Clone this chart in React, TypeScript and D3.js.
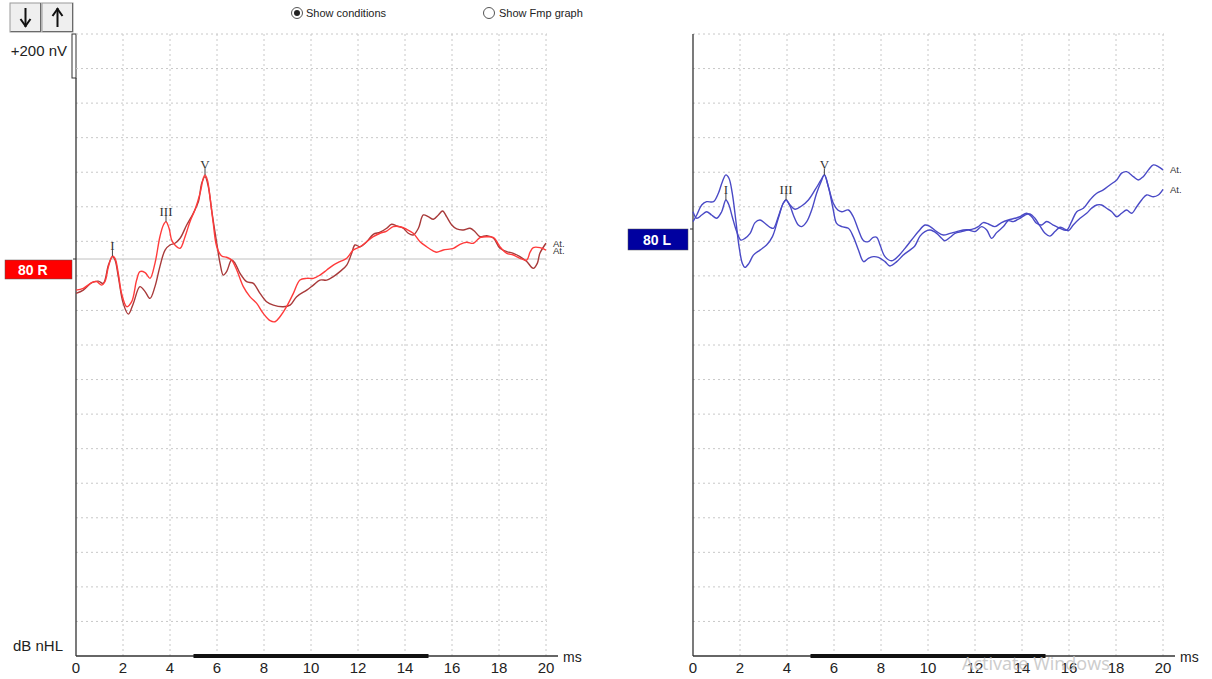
import React from "react";
import * as d3 from "d3";

// ---------- data (time in ms, amplitude in nV relative to each baseline) ----------
const timeTicks = [0, 2, 4, 6, 8, 10, 12, 14, 16, 18, 20];

const rightEarBright: [number, number][] = [
  [0.0, -180], [0.31, -170], [0.67, -137], [0.88, -131], [1.09, -151], [1.23, -131], [1.38, -44], [1.55, 17], [1.66, 4],
  [1.8, -83], [1.94, -199], [2.16, -276], [2.37, -247], [2.58, -122], [2.72, -73], [2.94, -79], [3.15, -112], [3.36, -25],
  [3.57, 129], [3.72, 197], [3.83, 216], [3.96, 178], [4.07, 110], [4.21, 81], [4.43, 62], [4.64, 129], [4.85, 216],
  [5.06, 284], [5.28, 381], [5.42, 468], [5.49, 487], [5.59, 458], [5.7, 361], [5.84, 207], [5.99, 71], [6.2, 17],
  [6.41, 10], [6.62, -6], [6.84, -64], [7.12, -160], [7.4, -218], [7.69, -257], [7.97, -315], [8.26, -357], [8.47, -363],
  [8.68, -334], [8.96, -276], [9.25, -199], [9.53, -122], [9.82, -112], [10.1, -112], [10.38, -93], [10.67, -64],
  [10.95, -35], [11.23, -15], [11.52, 4], [11.8, 52], [12.09, 71], [12.37, 100], [12.65, 129], [12.94, 149], [13.22, 162],
  [13.5, 187], [13.79, 187], [14.07, 172], [14.35, 149], [14.64, 100], [14.92, 71], [15.21, 46], [15.35, 39], [15.63, 52],
  [16.06, 62], [16.34, 85], [16.62, 97], [16.91, 91], [17.19, 124], [17.48, 129], [17.77, 124], [18.04, 71], [18.33, 33],
  [18.61, 23], [18.89, 4], [19.18, -6], [19.32, 39], [19.46, 66], [19.74, 66], [20.0, 52],
];

const rightEarDark: [number, number][] = [
  [0.0, -199], [0.31, -180], [0.67, -137], [0.95, -128], [1.16, -141], [1.38, -35], [1.55, 14], [1.66, -6], [1.8, -102],
  [2.01, -257], [2.23, -319], [2.44, -257], [2.72, -160], [2.94, -189], [3.15, -228], [3.36, -160], [3.57, -44],
  [3.79, 52], [4.0, 81], [4.21, 91], [4.43, 120], [4.71, 197], [4.99, 265], [5.21, 332], [5.35, 439], [5.49, 477],
  [5.63, 419], [5.77, 284], [5.99, 91], [6.13, -25], [6.27, -93], [6.41, -73], [6.62, -6], [6.77, -25], [6.98, -83],
  [7.26, -131], [7.55, -141], [7.83, -199], [8.11, -247], [8.4, -267], [8.82, -276], [9.11, -267], [9.39, -218],
  [9.82, -180], [10.1, -151], [10.38, -122], [10.67, -122], [10.95, -102], [11.23, -73], [11.52, -35], [11.73, 33],
  [11.87, 81], [12.09, 71], [12.37, 100], [12.65, 143], [12.94, 155], [13.22, 178], [13.43, 201], [13.65, 191],
  [13.93, 178], [14.14, 149], [14.35, 139], [14.57, 178], [14.78, 255], [14.99, 245], [15.21, 230], [15.42, 255],
  [15.6, 278], [15.77, 245], [15.99, 197], [16.2, 174], [16.48, 168], [16.77, 178], [16.98, 158], [17.19, 129],
  [17.48, 135], [17.77, 120], [18.04, 62], [18.33, 43], [18.61, 33], [18.89, 14], [19.18, -15], [19.46, -54],
  [19.63, -25], [19.74, 33], [20.0, 91],
];

const leftEarA: [number, number][] = [
  [0, 43], [0.16, 81], [0.37, 139], [0.58, 158], [0.87, 158], [1.08, 207], [1.25, 274], [1.4, 313], [1.53, 294],
  [1.67, 207], [1.82, 52], [1.96, -102], [2.1, -199], [2.21, -222], [2.38, -199], [2.57, -151], [2.85, -122], [3.13, -93],
  [3.38, -44], [3.63, 62], [3.84, 149], [3.96, 168], [4.13, 139], [4.34, 114], [4.62, 133], [4.91, 168], [5.19, 226],
  [5.45, 284], [5.59, 313], [5.76, 245], [5.97, 149], [6.16, 110], [6.33, 100], [6.61, 110], [6.82, 71], [7.04, -6],
  [7.26, -68], [7.46, -73], [7.67, -48], [7.82, -48], [7.96, -93], [8.17, -160], [8.45, -184], [8.74, -156], [9.02, -112],
  [9.3, -64], [9.59, -15], [9.87, 23], [10.09, 14], [10.37, -15], [10.65, -35], [10.94, -25], [11.22, -15], [11.5, -6],
  [11.86, -2], [12.14, 14], [12.35, 37], [12.57, 29], [12.85, 14], [13.13, 37], [13.42, 52], [13.7, 62], [13.91, 71],
  [14.2, 91], [14.41, 71], [14.62, 33], [14.84, 23], [15.05, 43], [15.33, 23], [15.62, 4], [15.9, -6], [16.11, 43],
  [16.33, 100], [16.61, 120], [16.89, 168], [17.18, 207], [17.46, 226], [17.74, 255], [18.03, 284], [18.24, 323],
  [18.45, 332], [18.74, 303], [18.95, 284], [19.16, 303], [19.38, 342], [19.59, 371], [19.8, 361], [20.0, 342],
];

const leftEarB: [number, number][] = [
  [0, 100], [0.16, 62], [0.37, 81], [0.58, 100], [0.79, 81], [1.01, 62], [1.22, 100], [1.4, 168], [1.53, 139], [1.67, 71],
  [1.86, -15], [2.04, -64], [2.21, -54], [2.43, -25], [2.64, 37], [2.85, 52], [3.06, 33], [3.28, 10], [3.42, 4], [3.63, 71],
  [3.84, 149], [3.96, 168], [4.13, 133], [4.27, 81], [4.48, 23], [4.62, 14], [4.84, 43], [5.05, 110], [5.26, 207],
  [5.45, 274], [5.59, 313], [5.76, 245], [5.97, 110], [6.11, 33], [6.33, 14], [6.61, 4], [6.82, -44], [7.04, -122],
  [7.26, -189], [7.46, -170], [7.67, -160], [7.89, -164], [8.17, -189], [8.38, -214], [8.67, -189], [8.95, -151],
  [9.23, -122], [9.43, -100], [9.66, -41], [9.87, -15], [10.09, -6], [10.37, -25], [10.58, -54], [10.72, -68],
  [10.94, -48], [11.15, -25], [11.43, -15], [11.72, -6], [12.0, -15], [12.28, 14], [12.5, -6], [12.71, -54], [12.92, -21],
  [13.21, 14], [13.42, 48], [13.63, 43], [13.91, 62], [14.13, 81], [14.34, 87], [14.55, 62], [14.77, 17], [14.98, -25],
  [15.19, -41], [15.4, -15], [15.62, 10], [15.76, 4], [15.97, -10], [16.18, 23], [16.47, 62], [16.75, 91], [16.96, 120],
  [17.18, 139], [17.39, 139], [17.6, 120], [17.82, 100], [18.03, 71], [18.24, 91], [18.45, 110], [18.67, 91], [18.88, 129],
  [19.09, 168], [19.3, 197], [19.59, 187], [19.8, 197], [20.0, 230],
];

const rightEarPeaks = [
  { label: "I", t: 1.55, v: 17 },
  { label: "III", t: 3.83, v: 216 },
  { label: "V", t: 5.49, v: 487 },
];
const leftEarPeaks = [
  { label: "I", t: 1.4, v: 168 },
  { label: "III", t: 3.96, v: 168 },
  { label: "V", t: 5.59, v: 313 },
];

const gridTimes = [2, 4, 6, 8, 10, 12, 14, 16, 18, 20];
const gridRows = d3.range(0, 18);

// ---------- layout ----------
const TOP = 34;
const BOTTOM = 656;
const ROW = (BOTTOM - TOP) / 18;
const PX_PER_200NV = ROW;

const SANS = "'Liberation Sans', Arial, sans-serif";

type PanelProps = {
  x0: number;
  baseline: number;
  traces: { data: [number, number][]; color: string }[];
  peaks: { label: string; t: number; v: number }[];
  showBaseline: boolean;
  axisTop: number;
  tag: string;
  tagColor: string;
  tagBox: [number, number, number, number];
  tagTextX: number;
};

function Panel(p: PanelProps) {
  const x = d3.scaleLinear().domain([0, 20]).range([p.x0, p.x0 + 470]);
  const y = d3.scaleLinear().domain([0, 200]).range([p.baseline, p.baseline - PX_PER_200NV]);
  const line = d3
    .line<[number, number]>()
    .x((d) => x(d[0]))
    .y((d) => y(d[1]))
    .curve(d3.curveCatmullRom.alpha(0.5));
  return (
    <g>
      {gridRows.map((k) => (
        <line key={"h" + k} x1={p.x0} x2={x(20) + 1} y1={TOP + k * ROW} y2={TOP + k * ROW}
          stroke="#c8c8c8" strokeDasharray="2,3" strokeWidth={1} />
      ))}
      {gridTimes.map((t) => (
        <line key={"v" + t} x1={x(t)} x2={x(t)} y1={TOP} y2={BOTTOM}
          stroke="#c8c8c8" strokeDasharray="2,3" strokeWidth={1} />
      ))}
      {p.showBaseline && (
        <line x1={x(0)} x2={x(20)} y1={p.baseline} y2={p.baseline} stroke="#c0c0c0" strokeWidth={1} />
      )}
      {/* axes */}
      <line x1={x(0)} x2={x(0)} y1={p.axisTop} y2={BOTTOM} stroke="#333" strokeWidth={1.3} />
      <line x1={x(0)} x2={x(20) + 12} y1={BOTTOM} y2={BOTTOM} stroke="#333" strokeWidth={1.3} />
      <line x1={x(5)} x2={x(15)} y1={BOTTOM} y2={BOTTOM} stroke="#111" strokeWidth={4} />
      <line x1={x(0) - 3} x2={x(0)} y1={p.baseline} y2={p.baseline} stroke="#333" strokeWidth={1} />
      {timeTicks.map((t) => (
        <text key={"tl" + t} x={x(t)} y={673} textAnchor="middle" fontFamily={SANS} fontSize={15} fill="#222">
          {t}
        </text>
      ))}
      <text x={x(20) + 17} y={662} fontFamily={SANS} fontSize={14} fill="#222">ms</text>
      {/* tag */}
      <rect x={p.tagBox[0]} y={p.tagBox[1]} width={p.tagBox[2]} height={p.tagBox[3]} fill={p.tagColor} stroke="#555" strokeWidth={0.5} />
      <text x={p.tagTextX} y={p.tagBox[1] + p.tagBox[3] / 2 + 5} fontFamily={SANS}
        fontWeight="bold" fontSize={14} fill="#fff">{p.tag}</text>
      {/* traces */}
      {p.traces.map((tr, i) => (
        <path key={"tr" + i} d={line(tr.data) || ""} fill="none" stroke={tr.color} strokeWidth={1.4} />
      ))}
      {p.traces.map((tr, i) => {
        const last = tr.data[tr.data.length - 1];
        return (
          <text key={"at" + i} x={x(20) + 7} y={y(last[1]) + 3.5} fontFamily={SANS}
            fontSize={9.5} fill="#333">At.</text>
        );
      })}
      {/* peak markers */}
      {p.peaks.map((pk) => {
        const px = x(pk.t);
        const py = y(pk.v);
        return (
          <g key={pk.label}>
            <line x1={px} x2={px} y1={py - 6} y2={py} stroke="#444" strokeWidth={1} />
            <text x={px} y={py - 6} textAnchor="middle" fontFamily="'Liberation Serif', 'DejaVu Serif', serif"
              fontSize={13} fill="#333">{pk.label}</text>
          </g>
        );
      })}
    </g>
  );
}

function ArrowButton({ x, dir }: { x: number; dir: "down" | "up" }) {
  const cx = x + 15.5;
  const head = dir === "down" ? 26 : 9;
  const sign = dir === "down" ? -1 : 1;
  return (
    <g>
      <rect x={x} y={3} width={31} height={29} fill="#efefef" stroke="#9a9a9a" strokeWidth={1} />
      <line x1={x + 0.5} x2={x + 31} y1={31.5} y2={31.5} stroke="#6a6a6a" />
      <line x1={x + 30.5} x2={x + 30.5} y1={3} y2={32} stroke="#6a6a6a" />
      <line x1={cx} x2={cx} y1={8} y2={27} stroke="#111" strokeWidth={2} />
      <path d={`M${cx - 5},${head + sign * 7} L${cx},${head} L${cx + 5},${head + sign * 7}`} fill="none" stroke="#111" strokeWidth={2} />
    </g>
  );
}

export default function App() {
  return (
    <svg width={1212} height={679} style={{ position: "absolute", left: 0, top: 0, background: "#fff" }}>
      <rect x={0} y={0} width={1212} height={679} fill="#fff" />
      <ArrowButton x={10} dir="down" />
      <ArrowButton x={42} dir="up" />
      {/* radio buttons */}
      <circle cx={297} cy={13} r={5.5} fill="#fff" stroke="#555" />
      <circle cx={297} cy={13} r={3} fill="#222" />
      <text x={306} y={17} fontFamily={SANS} fontSize={11} fill="#222">Show conditions</text>
      <circle cx={489} cy={13} r={5.5} fill="#fff" stroke="#555" />
      <text x={499} y={17} fontFamily={SANS} fontSize={11} fill="#222">Show Fmp graph</text>

      {/* scale bar */}
      <text x={67} y={56} textAnchor="end" fontFamily={SANS} fontSize={15} fill="#222">+200 nV</text>
      <rect x={72} y={34} width={4} height={44} fill="#fff" stroke="#333" strokeWidth={1} />
      <text x={13} y={651} fontFamily={SANS} fontSize={15} fill="#222">dB nHL</text>

      <Panel
        x0={76}
        baseline={259}
        axisTop={78}
        showBaseline={true}
        traces={[
          { data: rightEarDark, color: "#a83a3a" },
          { data: rightEarBright, color: "#ff3b3b" },
        ]}
        peaks={rightEarPeaks}
        tag="80 R"
        tagColor="#ff0000"
        tagBox={[5, 260, 67, 19]}
        tagTextX={18}
      />
      <Panel
        x0={693}
        baseline={229}
        axisTop={TOP}
        showBaseline={false}
        traces={[
          { data: leftEarA, color: "#4a4ac6" },
          { data: leftEarB, color: "#4a4ac6" },
        ]}
        peaks={leftEarPeaks}
        tag="80 L"
        tagColor="#0000a0"
        tagBox={[628, 229, 60, 21]}
        tagTextX={643}
      />
      <text x={962} y={670} fontFamily="'Open Sans', 'Noto Sans', sans-serif" fontSize={18} fill="#c4c4c4" opacity={0.85}>
        Activate Windows
      </text>
    </svg>
  );
}
